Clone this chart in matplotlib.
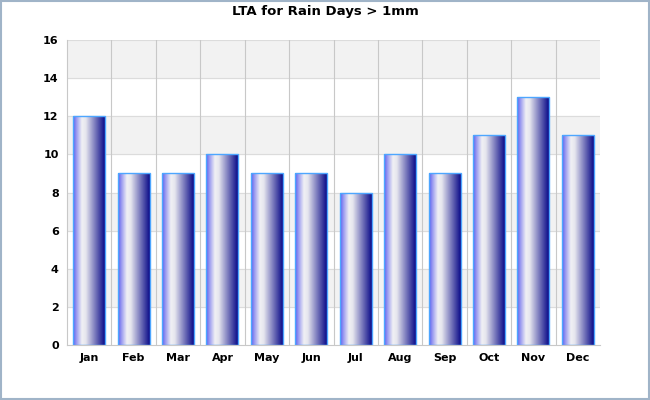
import matplotlib
matplotlib.use("Agg")
import matplotlib.pyplot as plt
import numpy as np
from matplotlib.colors import LinearSegmentedColormap
from matplotlib.patches import Rectangle

months = ["Jan","Feb","Mar","Apr","May","Jun","Jul","Aug","Sep","Oct","Nov","Dec"]
rain_days = [12, 9, 9, 10, 9, 9, 8, 10, 9, 11, 13, 11]

fig = plt.figure(figsize=(6.5, 4.0), dpi=100)
fig.patch.set_facecolor("white")
fig.add_artist(Rectangle((0.002, 0.003), 0.996, 0.994, transform=fig.transFigure,
                         fill=False, edgecolor="#a0b4c8", linewidth=1.5))
ax = fig.add_axes([67/650, 55/400, 533/650, 305/400])
ax.set_xlim(-0.5, len(months) - 0.5)
ax.set_ylim(0, 16)
for y0 in [2, 6, 10, 14]:
    ax.axhspan(y0, y0 + 2, color="#f2f2f2", zorder=0)
for y in range(2, 17, 2):
    ax.axhline(y, color="#dcdcdc", lw=0.8, zorder=0.5)
for x in np.arange(0.5, len(months) - 0.5, 1):
    ax.axvline(x, color="#c8c8c8", lw=0.8, zorder=0.5)

cmap = LinearSegmentedColormap.from_list("g", [(0, "#5c5cf0"), (0.12, "#a0a0f0"), (0.28, "#f0f0f4"),
                                               (0.4, "#e6e6ee"), (0.65, "#8a8ac4"), (1, "#0a0a88")])
grad = np.linspace(0, 1, 256).reshape(1, -1)
w = 0.72
bars = ax.bar(range(len(months)), rain_days, width=w, color="none",
              edgecolor="#4da6ff", linewidth=1.0, zorder=3)
for b in bars:
    x0, h = b.get_x(), b.get_height()
    im = ax.imshow(grad, cmap=cmap, aspect="auto", extent=(x0, x0 + w, 0, h), zorder=2)
    im.set_clip_path(b)

ax.set_xticks(range(len(months)))
ax.set_xticklabels(months, fontsize=8, fontweight="bold")
ax.set_yticks(range(0, 17, 2))
ax.tick_params(labelsize=8, length=0, pad=6)
for lbl in ax.get_yticklabels():
    lbl.set_fontweight("bold")
for s in ["top", "right"]:
    ax.spines[s].set_visible(False)
ax.spines["left"].set_color("#c8c8c8")
ax.spines["bottom"].set_color("#c8c8c8")
fig.text(0.5, 0.97, "LTA for Rain Days > 1mm", ha="center", va="center", fontsize=9.5, fontweight="bold")
fig.savefig("out.png", dpi=100)
